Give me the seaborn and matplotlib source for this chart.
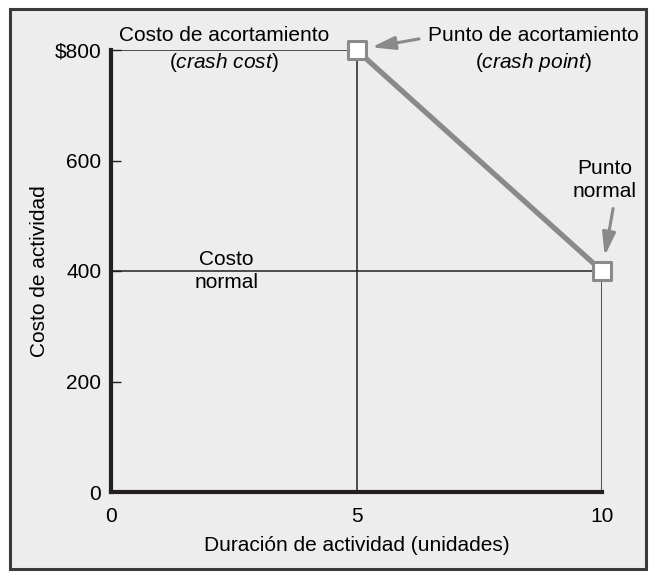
import matplotlib
matplotlib.use("Agg")
import matplotlib.pyplot as plt
import matplotlib.patches as patches
import pandas as pd
import seaborn as sns

# Chart data
duracion = [5, 10]          # crash point, normal point
costo = [800, 400]
x_ticks = [0, 5, 10]
x_tick_labels = ["0", "5", "10"]
y_ticks = [0, 200, 400, 600, 800]
y_tick_labels = ["0", "200", "400", "600", "$800"]

df = pd.DataFrame({"duracion": duracion, "costo": costo})

sns.set_theme(style="ticks")
plt.rcParams["font.family"] = ["Liberation Sans", "DejaVu Sans"]
plt.rcParams["mathtext.fontset"] = "custom"
plt.rcParams["mathtext.rm"] = "Liberation Sans"
plt.rcParams["mathtext.it"] = "Liberation Sans:italic"

dark = "#231f20"
gray = "#8a8a8a"
fs = 15

fig = plt.figure(figsize=(6.49, 5.72), dpi=100, facecolor="white")

# outer frame
fig.patches.append(patches.Rectangle((10 / 649, 1 - 569 / 572), 636 / 649, 560 / 572,
                                     transform=fig.transFigure, facecolor="#ededed",
                                     edgecolor="#3a3a3a", linewidth=2.2, zorder=-10))

ax = fig.add_axes([111 / 649, 1 - 492 / 572, 491 / 649, 442 / 572])
ax.set_facecolor("none")
ax.set_xlim(0, 10)
ax.set_ylim(0, 800)

# reference lines (crash cost / normal cost / durations)
ax.hlines(costo[0], 0, duracion[0], color=dark, lw=1.1, zorder=2)
ax.hlines(costo[1], 0, duracion[1], color=dark, lw=1.1, zorder=2)
ax.vlines(duracion[0], 0, costo[0], color=dark, lw=1.1, zorder=2)
ax.vlines(duracion[1], 0, costo[1], color=dark, lw=1.1, zorder=2)

# cost slope line and points
sns.lineplot(data=df, x="duracion", y="costo", color=gray, lw=3.8, ax=ax, zorder=3)
sns.scatterplot(data=df, x="duracion", y="costo", marker="s", s=150, color="white",
                edgecolor=gray, linewidth=2.2, ax=ax, zorder=4, clip_on=False)

for side in ["top", "right"]:
    ax.spines[side].set_visible(False)
for side in ["left", "bottom"]:
    ax.spines[side].set_linewidth(3)
    ax.spines[side].set_color(dark)
    ax.spines[side].set_zorder(5)

ax.set_xticks(x_ticks)
ax.set_xticklabels(x_tick_labels)
ax.set_yticks(y_ticks)
ax.set_yticklabels(y_tick_labels)
ax.tick_params(axis="x", length=0, pad=11, labelsize=fs, labelcolor="black")
ax.tick_params(axis="y", direction="in", length=7, width=1, color=dark, pad=7,
               labelsize=fs, labelcolor="black")

ax.set_xlabel("Duración de actividad (unidades)", fontsize=fs, color="black")
ax.set_ylabel("Costo de actividad", fontsize=fs, color="black")
ax.xaxis.set_label_coords(0.5, -0.1)
ax.yaxis.set_label_coords(-0.126, 0.5)

# annotations
ax.text(2.3, 800, "Costo de acortamiento\n(" + r"$\mathit{crash\ cost}$" + ")",
        ha="center", va="center", fontsize=fs, linespacing=1.3, color="black")
ax.text(2.35, 400, "Costo\nnormal", ha="center", va="center", fontsize=fs,
        linespacing=1.3, color="black")
ax.text(8.6, 800, "Punto de acortamiento\n(" + r"$\mathit{crash\ point}$" + ")",
        ha="center", va="center", fontsize=fs, linespacing=1.3, color="black",
        clip_on=False)
ax.text(10.05, 565, "Punto\nnormal", ha="center", va="center", fontsize=fs,
        linespacing=1.3, color="black", clip_on=False)

arrow = dict(arrowstyle="-|>,head_length=1.4,head_width=0.4", lw=2.2, color=gray,
             shrinkA=0, shrinkB=11, mutation_scale=10)
ax.annotate("", xy=(duracion[0], costo[0]), xytext=(45, 8), textcoords="offset points",
            arrowprops=arrow, annotation_clip=False)
ax.annotate("", xy=(duracion[1], costo[1]), xytext=(8, 45), textcoords="offset points",
            arrowprops=arrow, annotation_clip=False)

fig.savefig("out.png", dpi=100)
